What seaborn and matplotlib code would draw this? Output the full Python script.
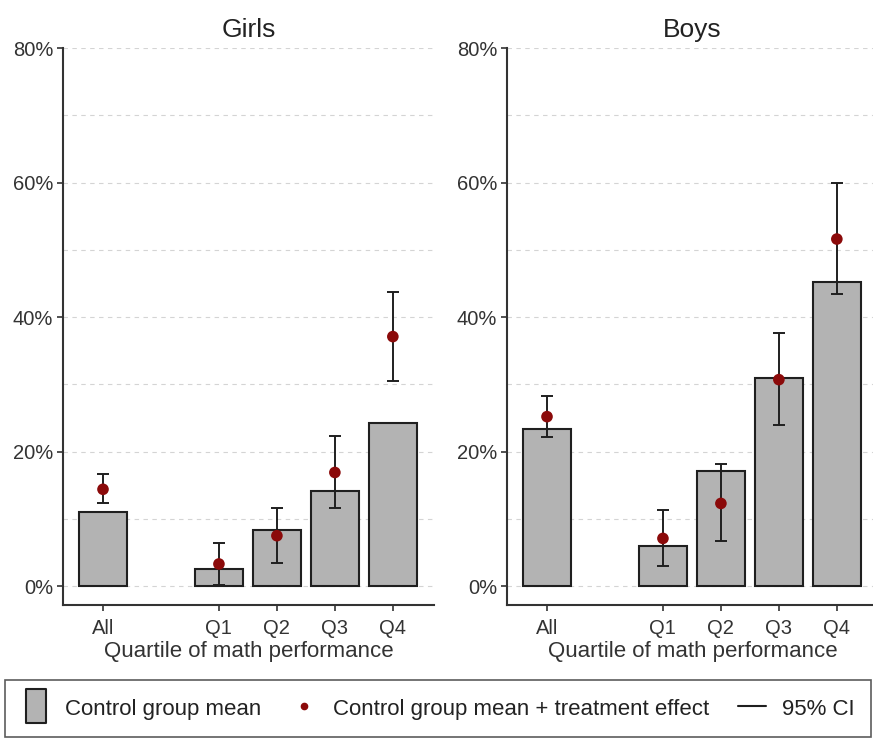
import matplotlib

matplotlib.use("Agg")
import matplotlib.pyplot as plt
import numpy as np
import pandas as pd
import seaborn as sns
from matplotlib.lines import Line2D
from matplotlib.path import Path
from matplotlib.ticker import FuncFormatter, MultipleLocator

# Data (percent)
groups = ["Girls", "Boys"]
categories = ["All", "Q1", "Q2", "Q3", "Q4"]
positions = [0, 2, 3, 4, 5]

girls_control = [11.0, 2.6, 8.4, 14.2, 24.2]
girls_treated = [14.4, 3.3, 7.5, 16.9, 37.1]
girls_ci_low = [12.3, 0.1, 3.4, 11.6, 30.5]
girls_ci_high = [16.7, 6.4, 11.6, 22.3, 43.8]

boys_control = [23.3, 5.9, 17.1, 31.0, 45.2]
boys_treated = [25.2, 7.1, 12.3, 30.7, 51.6]
boys_ci_low = [22.1, 3.0, 6.7, 23.9, 43.4]
boys_ci_high = [28.3, 11.3, 18.2, 37.7, 59.9]

BAR_GRAY = "#b3b3b3"
DOT_RED = "#8b0a0a"
INK = "#1f1f1f"

df = pd.DataFrame(
    {
        "group": ["Girls"] * 5 + ["Boys"] * 5,
        "category": categories * 2,
        "pos": positions * 2,
        "control": girls_control + boys_control,
        "treated": girls_treated + boys_treated,
        "ci_low": girls_ci_low + boys_ci_low,
        "ci_high": girls_ci_high + boys_ci_high,
    }
)

sns.set_theme(style="white")
plt.rcParams["font.family"] = ["Liberation Sans", "DejaVu Sans"]

fig = plt.figure(figsize=(8.73, 7.4), dpi=100)
W, H = 873, 740
ax_girls = fig.add_axes([63 / W, 1 - 605 / H, 371 / W, (605 - 48) / H])
ax_boys = fig.add_axes([507 / W, 1 - 605 / H, 371 / W, (605 - 48) / H])

for ax, group in zip([ax_girls, ax_boys], groups):
    sub = df[df["group"] == group]
    sns.barplot(
        data=sub,
        x="pos",
        y="control",
        native_scale=True,
        width=0.83,
        color=BAR_GRAY,
        saturation=1,
        edgecolor=INK,
        linewidth=1.5,
        errorbar=None,
        ax=ax,
        zorder=2,
    )
    ax.errorbar(
        sub["pos"],
        sub["treated"],
        yerr=[sub["treated"] - sub["ci_low"], sub["ci_high"] - sub["treated"]],
        fmt="none",
        ecolor=INK,
        elinewidth=1.4,
        capsize=4.5,
        capthick=1.4,
        zorder=3,
    )
    sns.scatterplot(
        data=sub,
        x="pos",
        y="treated",
        color=DOT_RED,
        s=70,
        edgecolor="none",
        ax=ax,
        zorder=4,
    )

    ax.set_xlim(-0.69, 5.71)
    ax.set_ylim(-2.8, 80)
    ax.set_xticks(positions)
    ax.set_xticklabels(categories)
    ax.yaxis.set_major_locator(MultipleLocator(20))
    ax.yaxis.set_minor_locator(MultipleLocator(10))
    ax.yaxis.set_major_formatter(FuncFormatter(lambda v, p: f"{v:.0f}%"))
    ax.grid(
        which="both",
        axis="y",
        linestyle=(0, (4, 4)),
        color="#d4d4d4",
        linewidth=0.8,
    )
    ax.set_axisbelow(True)
    ax.tick_params(axis="y", which="minor", length=0)
    ax.tick_params(
        axis="both",
        which="major",
        direction="out",
        length=4,
        width=1.2,
        color="#333333",
        labelsize=14.5,
        labelcolor="#333333",
        pad=3,
        left=True,
        bottom=True,
    )
    ax.tick_params(axis="x", pad=6)
    for side in ["top", "right"]:
        ax.spines[side].set_visible(False)
    for side in ["left", "bottom"]:
        ax.spines[side].set_color("#333333")
        ax.spines[side].set_linewidth(1.5)
    ax.set_xlabel("Quartile of math performance", fontsize=16, color="#333333", labelpad=2)
    ax.set_ylabel("")
    ax.set_title(group, fontsize=19, color="#222222", pad=8)

# tall gray rectangle for the bar legend key
rect = Path([(-0.62, -1), (0.62, -1), (0.62, 1), (-0.62, 1), (-0.62, -1)], closed=True)
handles = [
    Line2D([], [], marker=rect, linestyle="none", markersize=24,
           markerfacecolor=BAR_GRAY, markeredgecolor=INK, markeredgewidth=1.5),
    Line2D([], [], marker="o", linestyle="none", color=DOT_RED, markersize=4.5),
    Line2D([], [], color=INK, linewidth=1.5),
]
labels = [
    "Control group mean",
    "Control group mean + treatment effect",
    "95% CI",
]
leg = fig.legend(
    handles,
    labels,
    loc="lower left",
    bbox_to_anchor=(5 / W, 3 / H, 866 / W, 60 / H),
    mode="expand",
    ncol=3,
    fontsize=16,
    frameon=True,
    fancybox=False,
    edgecolor="#333333",
    handlelength=1.25,
    handleheight=1.2,
    handletextpad=0.7,
    borderaxespad=0,
    borderpad=0.75,
)
leg.get_frame().set_linewidth(1.2)
for t in leg.get_texts():
    t.set_color("#222222")

fig.savefig("out.png", dpi=100, facecolor="white")
